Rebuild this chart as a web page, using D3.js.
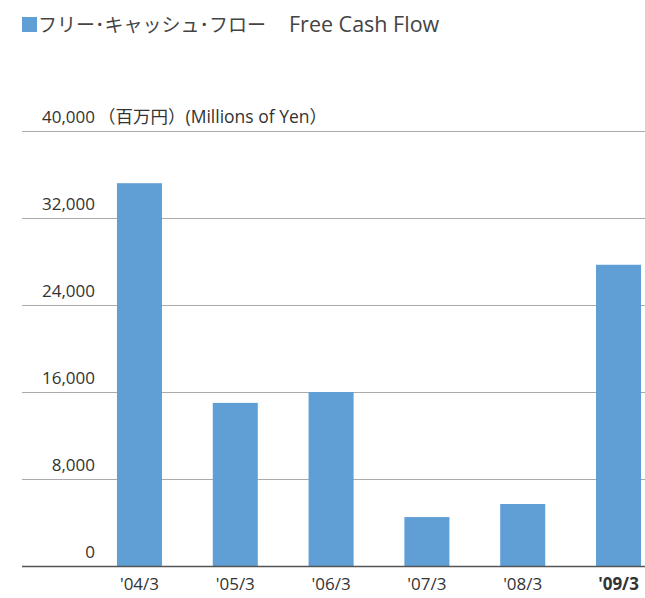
<!DOCTYPE html>
<html>
<head>
<meta charset="utf-8">
<script src="https://cdn.jsdelivr.net/npm/d3@7"></script>
<style>
  body { margin: 0; background: #fff; }
  svg text { font-family: "Open Sans", "Noto Sans CJK JP", sans-serif; fill: #333; }
</style>
</head>
<body>
<svg id="chart" width="645" height="598"></svg>
<script>
// data
var years = ["'04/3", "'05/3", "'06/3", "'07/3", "'08/3", "'09/3"];
var cashFlow = [35200, 15000, 16000, 4500, 5700, 27700];
var tickValues = [0, 8000, 16000, 24000, 32000, 40000];

var svg = d3.select("#chart");

var plotLeft = 22, plotRight = 645, plotTop = 131, plotBottom = 566;

var x = d3.scaleBand()
    .domain(years)
    .range([93, 665])
    .paddingInner(0.53)
    .paddingOuter(0.25);

var y = d3.scaleLinear()
    .domain([0, 40000])
    .range([plotBottom, plotTop]);

// title
svg.append("rect")
    .attr("x", 22).attr("y", 17)
    .attr("width", 15).attr("height", 15)
    .attr("fill", "#5f9fd6");
svg.append("text")
    .attr("x", 38).attr("y", 32)
    .style("font-size", "19px")
    .style("fill", "#444")
    .text("フリー･キャッシュ･フロー");
svg.append("text")
    .attr("x", 289).attr("y", 32)
    .style("font-size", "21.5px")
    .style("fill", "#444")
    .text("Free Cash Flow");

// grid lines
svg.selectAll(".grid")
    .data(tickValues.slice(1))
    .enter().append("line")
    .attr("class", "grid")
    .attr("x1", plotLeft).attr("x2", plotRight)
    .attr("y1", function(d) { return y(d) + 0.5; })
    .attr("y2", function(d) { return y(d) + 0.5; })
    .attr("stroke", "#aaa")
    .attr("stroke-width", 1);

// y labels sit above the lines
svg.selectAll(".ylab")
    .data(tickValues)
    .enter().append("text")
    .attr("class", "ylab")
    .attr("x", 95)
    .attr("y", function(d) { return y(d) - 8; })
    .attr("text-anchor", "end")
    .style("font-size", "17px")
    .text(function(d) { return d3.format(",")(d); });

svg.append("text")
    .attr("x", 98)
    .attr("y", y(40000) - 8)
    .style("font-size", "17.5px")
    .text("（百万円）(Millions of Yen）");

// bars
svg.selectAll(".bar")
    .data(cashFlow)
    .enter().append("rect")
    .attr("class", "bar")
    .attr("x", function(d, i) { return x(years[i]); })
    .attr("y", function(d) { return y(d); })
    .attr("width", x.bandwidth())
    .attr("height", function(d) { return plotBottom - y(d); })
    .attr("fill", "#5f9fd6");

// baseline
svg.append("line")
    .attr("x1", plotLeft).attr("x2", plotRight)
    .attr("y1", plotBottom + 0.5).attr("y2", plotBottom + 0.5)
    .attr("stroke", "#555")
    .attr("stroke-width", 1.5);

// x labels
svg.selectAll(".xlab")
    .data(years)
    .enter().append("text")
    .attr("class", "xlab")
    .attr("x", function(d) { return x(d) + x.bandwidth() / 2; })
    .attr("y", 590)
    .attr("text-anchor", "middle")
    .style("font-size", "17px")
    .style("font-weight", function(d, i) { return i == years.length - 1 ? "bold" : "normal"; })
    .text(function(d) { return d; });
</script>
</body>
</html>
